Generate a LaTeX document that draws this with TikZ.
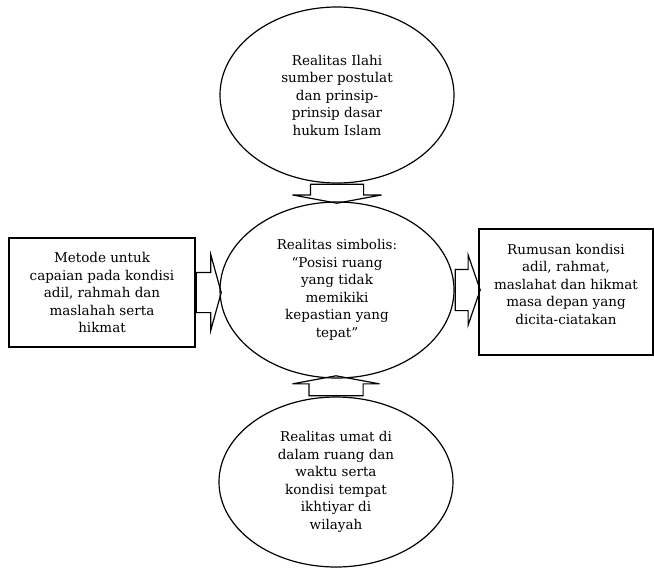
\documentclass[tikz,border=0pt]{standalone}
\usepackage{fontspec}
\setmainfont{DejaVu Serif}
\usetikzlibrary{shapes.geometric, shapes.arrows, calc}

\begin{document}
\begin{tikzpicture}[x=1pt, y=-1pt,
    lingkaran/.style={draw, ellipse, line width=1.2pt, inner sep=0pt,
      minimum width=234pt, align=center, font=\fontsize{13.5}{17.5}\selectfont},
    kotak/.style={draw, rectangle, line width=1.3pt, inner sep=0pt,
      align=center, font=\fontsize{13.5}{17.5}\selectfont},
    panah/.style={draw, single arrow, line width=1.2pt, inner xsep=0pt,
      anchor=tail}]
  \useasboundingbox (0,0) rectangle (654,568);
  % three realities, top to bottom
  \node[lingkaran, minimum height=176pt] (ilahi) at (337,95)
    {Realitas Ilahi\\sumber postulat\\dan prinsip-\\prinsip dasar\\hukum Islam};
  \node[lingkaran, minimum height=176pt] (simbol) at (337,290)
    {Realitas simbolis:\\“Posisi ruang\\yang tidak\\memikiki\\kepastian yang\\tepat”};
  \node[lingkaran, minimum height=170pt] (umat) at (336,482)
    {Realitas umat di\\dalam ruang dan\\waktu serta\\kondisi tempat\\ikhtiyar di\\wilayah};
  % side boxes
  \node[kotak, minimum width=186pt, minimum height=109pt] (metode) at (102,292.5)
    {Metode untuk\\capaian pada kondisi\\adil, rahmah dan\\maslahah serta\\hikmat};
  \node[kotak, minimum width=174pt, minimum height=126pt] (rumus) at (566,292) {};
  \node[align=center, font=\fontsize{13.5}{17.5}\selectfont] (rumusteks)
    at ($(rumus.center)+(0,-8)$)
    {Rumusan kondisi\\adil, rahmat,\\maslahat dan hikmat\\masa depan yang\\dicita-ciatakan};
  % block arrows (inner ysep = half the shaft)
  \node[panah, rotate=-90, inner ysep=26pt, minimum height=19pt,
    single arrow head extend=18pt, single arrow tip angle=159] (panahatas)
    at (ilahi.south) {};
  \node[panah, rotate=90, inner ysep=26.5pt, minimum height=20pt,
    single arrow head extend=16.5pt, single arrow tip angle=159] (panahbawah)
    at (umat.north) {};
  \node[panah, inner ysep=19.5pt, minimum height=25pt,
    single arrow head extend=17.5pt, single arrow tip angle=149] (panahkiri)
    at (metode.east) {};
  \node[panah, inner ysep=20pt, minimum height=25pt,
    single arrow head extend=14.5pt, single arrow tip angle=142] (panahkanan)
    at (simbol.east) {};
\end{tikzpicture}
\end{document}
